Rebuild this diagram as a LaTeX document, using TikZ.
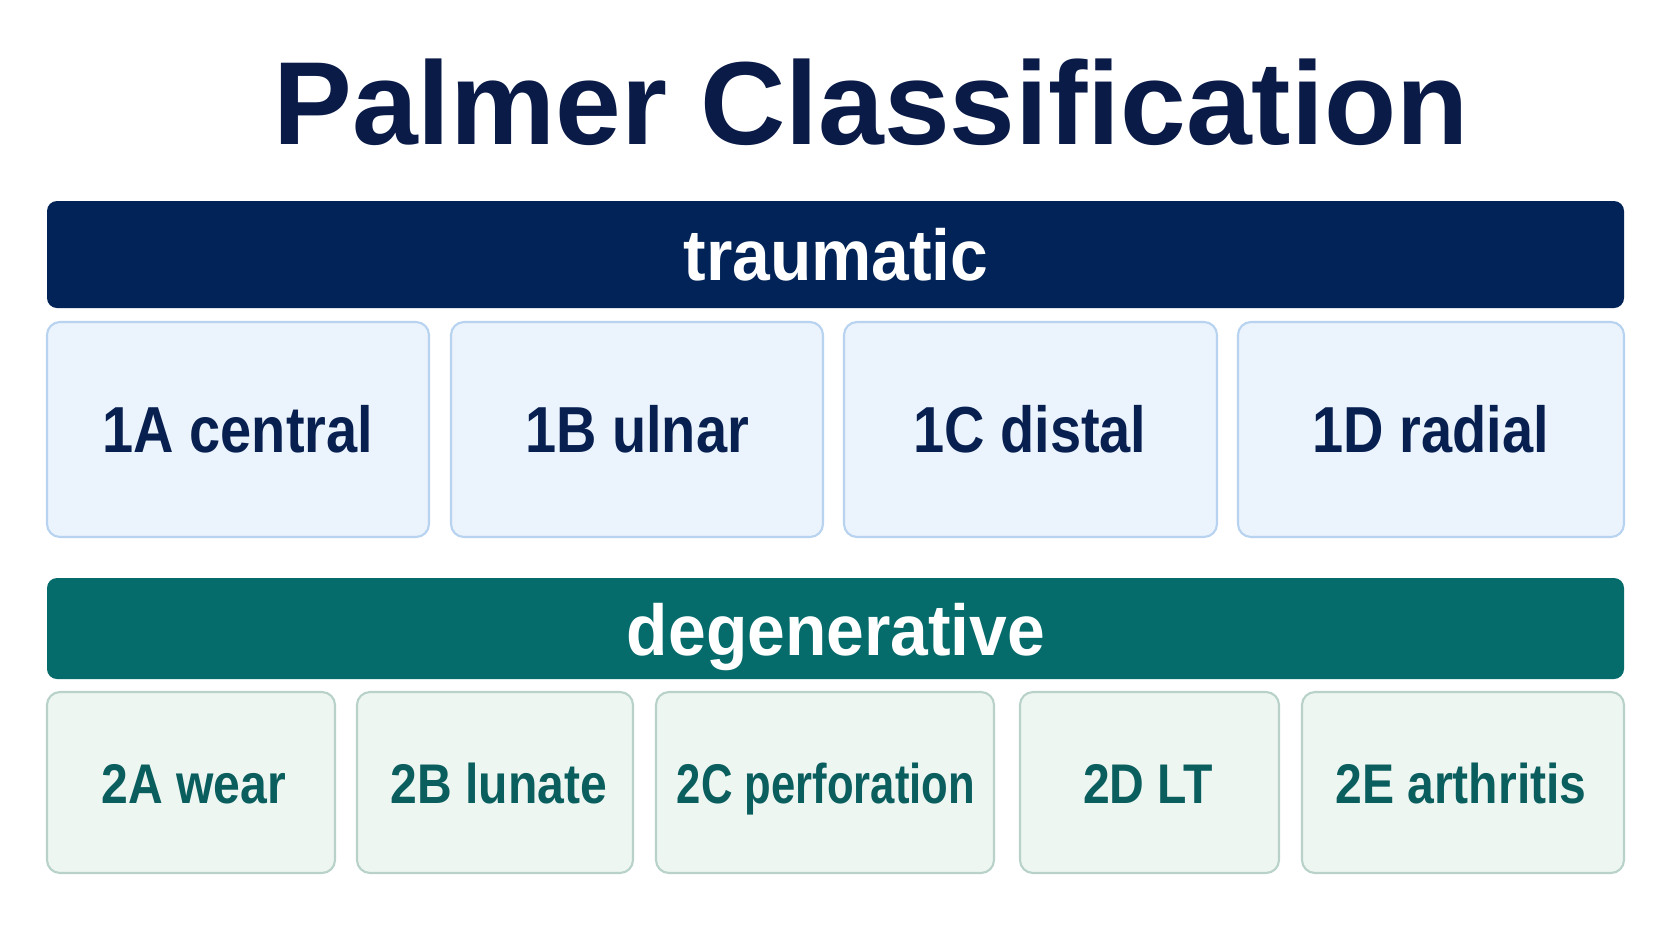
\documentclass[tikz,border=0pt]{standalone}
\usepackage{fontspec}
\setmainfont{Liberation Sans}
\newfontfamily\boxfont[FakeStretch=0.86]{Liberation Sans}
\newfontfamily\narrowfont[FakeStretch=0.78]{Liberation Sans}
\newfontfamily\bannerfont[FakeStretch=0.94]{Liberation Sans}
\definecolor{titleblue}{RGB}{10,27,72}
\definecolor{navy}{RGB}{1,35,87}
\definecolor{navytext}{RGB}{8,32,80}
\definecolor{lightblue}{RGB}{235,243,253}
\definecolor{blueline}{RGB}{183,211,240}
\definecolor{teal}{RGB}{5,107,107}
\definecolor{tealtext}{RGB}{10,94,94}
\definecolor{lightgreen}{RGB}{238,246,241}
\definecolor{greenline}{RGB}{184,210,202}
\begin{document}
\begin{tikzpicture}[x=0.01cm,y=-0.01cm,
	bannertext/.style={anchor=base,white,font=\bannerfont\bfseries\fontsize{20.5}{24}\selectfont},
	tbox/.style={draw=blueline,fill=lightblue,line width=0.6pt,rounded corners=0.13cm},
	dbox/.style={draw=greenline,fill=lightgreen,line width=0.6pt,rounded corners=0.13cm},
	ttext/.style={anchor=base,navytext,font=\boxfont\bfseries\fontsize{18.5}{22}\selectfont},
	dtext/.style={anchor=base,tealtext,font=\boxfont\bfseries\fontsize{15.9}{19}\selectfont}]
	\useasboundingbox (0,0) rectangle (1672,941);
	\fill [white] (0,0) rectangle (1672,941);
	%Titel
	\node (title) [anchor=base,titleblue,font=\bfseries\fontsize{33.6}{40}\selectfont] at (871,144) {Palmer Classification};
	%traumatic
	\fill [navy,rounded corners=0.1cm] (47,201) rectangle (1624,308);
	\node (trauma) [bannertext] at (836,280) {traumatic};
	\draw [tbox] (47,322) rectangle (429,537);
	\draw [tbox] (451,322) rectangle (823,537);
	\draw [tbox] (844,322) rectangle (1217,537);
	\draw [tbox] (1238,322) rectangle (1624,537);
	\node (t1a) [ttext] at (238,452) {1A central};
	\node (t1b) [ttext] at (637,452) {1B ulnar};
	\node (t1c) [ttext] at (1030,452) {1C distal};
	\node (t1d) [ttext] at (1431,452) {1D radial};
	%degenerative
	\fill [teal,rounded corners=0.1cm] (47,578) rectangle (1624,679);
	\node (degen) [bannertext] at (836,655) {degenerative};
	\draw [dbox] (47,692) rectangle (335,873);
	\draw [dbox] (357,692) rectangle (633,873);
	\draw [dbox] (656,692) rectangle (994,873);
	\draw [dbox] (1020,692) rectangle (1279,873);
	\draw [dbox] (1302,692) rectangle (1624,873);
	\node (d2a) [dtext] at (194,803) {2A wear};
	\node (d2b) [dtext] at (499,803) {2B lunate};
	\node (d2c) [dtext,font=\narrowfont\bfseries\fontsize{15.9}{19}\selectfont] at (826,803) {2C perforation};
	\node (d2d) [dtext] at (1148,803) {2D LT};
	\node (d2e) [dtext] at (1461,803) {2E arthritis};
\end{tikzpicture}
\end{document}
